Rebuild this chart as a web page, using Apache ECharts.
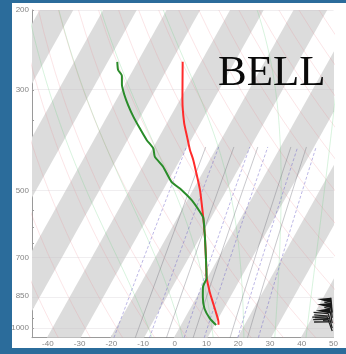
<!DOCTYPE html>
<html>
<head>
<meta charset="utf-8">
<script src="https://cdn.jsdelivr.net/npm/echarts@6/dist/echarts.min.js"></script>
<style>
  html, body { margin: 0; padding: 0; background: #2b6c9b; }
  #chart { width: 346px; height: 354px; }
</style>
</head>
<body>
<div id="chart"></div>
<script>
// ---- Sounding (pressure in hPa, temperatures in °C) ----
const tempPressure = [260, 315, 354, 380, 406, 427, 465, 497, 532, 573, 630, 691, 745, 776, 804, 834, 877, 922, 970, 984];
const temperature  = [-46.1, -39.5, -34.9, -31.5, -28.3, -25.5, -21.3, -18.1, -15.2, -12.1, -8.3, -4.8, -2.0, -0.5, 1.2, 3.0, 5.7, 8.4, 11.0, 11.5];

const dewPressure = [260, 271, 279, 292, 307, 324, 343, 364, 386, 403, 420, 442, 477, 497, 523, 555, 573, 630, 691, 745, 776, 811, 853, 906, 952, 985];
const dewpoint    = [-66.7, -65.0, -62.8, -61.2, -58.7, -55.6, -52.0, -47.9, -43.7, -40.1, -38.2, -33.8, -28.5, -23.9, -19.0, -14.3, -12.1, -8.3, -4.8, -2.0, -0.5, -0.1, 1.6, 4.2, 7.6, 10.8];

// ---- Wind barbs near the surface ----
const windPressure  = [925, 950, 975, 1000, 1015];
const windSpeed     = [55, 55, 50, 35, 30];          // knots
const windDirection = [355, 355, 350, 345, 340];     // degrees

// ---- Axes ----
const pressureLabels = [200, 300, 500, 700, 850, 1000];
const pressureTicks  = [200, 250, 300, 350, 400, 450, 500, 550, 600, 650, 700, 750, 800, 850, 900, 950, 1000];
const tempTicks      = [-40, -30, -20, -10, 0, 10, 20, 30, 40, 50];
const P_TOP = 200, P_BOTTOM = 1050;
const T_MIN = -45, T_MAX = 50;

// ---- Background reference lines ----
const shadedBands     = [-120, -100, -80, -60, -40, -20, 0, 20, 40]; // isotherm at the start of each shaded band
const bandStart       = -0.3;
const bandWidth       = 10.6;
const dryAdiabats     = [-40, -30, -20, -10, 0, 10, 20, 30, 40, 50, 60, 70, 80, 90, 100, 110, 120, 130, 140, 150]; // θ (°C)
const moistAdiabats   = [-10, 0, 10, 20, 30, 40];   // T at 1000 hPa (°C)
const mixingDashed    = [0.8, 2, 4.5, 7, 14, 21];    // g/kg
const mixingSolid     = [1.4, 3, 5.5, 12, 17];       // g/kg
const MIXING_TOP = 400;

// skew of isotherms: °C shift per unit of ln(p)
const SKEW = 34.8;
const ln = Math.log;
function sk(t, p) { return [t + SKEW * ln(P_BOTTOM / p), ln(p)]; }

function satVap(tc) { return 6.112 * Math.exp(17.67 * tc / (tc + 243.5)); }
function dewFromMix(w, p) {
  const e = p * w / (622 + w);
  const a = ln(e / 6.112);
  return 243.5 * a / (17.67 - a);
}
function moistLapse(p, tk) {
  const Rd = 287.04, Cp = 1005.7, Lv = 2.501e6, eps = 0.622;
  const es = satVap(tk - 273.15);
  const rs = eps * es / (p - es);
  return (Rd * tk + Lv * rs) / (p * (Cp + Lv * Lv * rs * eps / (Rd * tk * tk)));
}
function moistCurve(t0) {
  const up = [];
  let tk = t0 + 273.15, p = 1000;
  up.push(sk(t0, 1000));
  while (p > P_TOP) {
    const dp = -5;
    const k1 = moistLapse(p, tk);
    const k2 = moistLapse(p + dp, tk + k1 * dp);
    tk += 0.5 * (k1 + k2) * dp; p += dp;
    up.push(sk(tk - 273.15, p));
  }
  tk = t0 + 273.15; p = 1000;
  const down = [];
  while (p < P_BOTTOM) {
    const dp = 5;
    const k1 = moistLapse(p, tk);
    const k2 = moistLapse(p + dp, tk + k1 * dp);
    tk += 0.5 * (k1 + k2) * dp; p += dp;
    down.unshift(sk(tk - 273.15, p));
  }
  return down.concat(up);
}
function dryCurve(theta) {
  const pts = [];
  for (let p = P_BOTTOM; p >= P_TOP; p -= 25) {
    pts.push(sk((theta + 273.15) * Math.pow(p / 1000, 0.2857) - 273.15, p));
  }
  return pts;
}
function mixCurve(w) {
  const pts = [];
  for (let p = P_BOTTOM; p >= MIXING_TOP; p -= 50) pts.push(sk(dewFromMix(w, p), p));
  return pts;
}

const bgLine = (data, color, width, type) => ({
  type: 'line', data, showSymbol: false, silent: true, z: 2,
  lineStyle: { color, width, type: type || 'solid' }, animation: false
});

const series = [];

// shaded isotherm bands
series.push({
  type: 'custom',
  clip: true,
  silent: true,
  z: 1,
  data: shadedBands,
  renderItem: function (params, api) {
    const t0 = api.value(0) + bandStart;
    const pts = [
      api.coord(sk(t0, P_BOTTOM)),
      api.coord(sk(t0 + bandWidth, P_BOTTOM)),
      api.coord(sk(t0 + bandWidth, P_TOP)),
      api.coord(sk(t0, P_TOP))
    ];
    return { type: 'polygon', shape: { points: pts }, style: { fill: '#dcdcdc' } };
  },
  markLine: {
    silent: true, symbol: 'none', label: { show: false },
    lineStyle: { color: 'rgba(200,190,200,0.45)', width: 0.6, type: 'solid' },
    data: pressureLabels.map(p => ({ yAxis: ln(p) }))
  },
  animation: false
});

dryAdiabats.forEach(th => series.push(bgLine(dryCurve(th), 'rgba(235,130,140,0.35)', 0.6)));
moistAdiabats.forEach(t => series.push(bgLine(moistCurve(t), 'rgba(110,210,130,0.45)', 0.6)));
mixingSolid.forEach(w => series.push(bgLine(mixCurve(w), 'rgba(110,110,120,0.55)', 0.7)));
mixingDashed.forEach(w => series.push(bgLine(mixCurve(w), 'rgba(110,100,200,0.65)', 0.7, [3, 2])));

// temperature and dewpoint profiles
series.push({
  type: 'line', name: 'Temperature', showSymbol: false, silent: true, z: 5, smooth: 0.2,
  data: temperature.map((t, i) => sk(t, tempPressure[i])),
  lineStyle: { color: '#ff2b2b', width: 2 }, animation: false
});
series.push({
  type: 'line', name: 'Dewpoint', showSymbol: false, silent: true, z: 6, smooth: 0.2,
  data: dewpoint.map((t, i) => sk(t, dewPressure[i])),
  lineStyle: { color: '#2a8c2a', width: 2 }, animation: false
});

// wind barbs, anchored along the right edge
const BARB_T = 49.6;
series.push({
  type: 'custom',
  silent: true,
  z: 7,
  clip: false,
  data: windPressure.map((p, i) => [BARB_T, ln(p), windSpeed[i], windDirection[i]]),
  renderItem: function (params, api) {
    const base = api.coord([api.value(0), api.value(1)]);
    const spd = api.value(2), dir = api.value(3) * Math.PI / 180;
    const L = 15, F = 14, GAP = 2.6;
    const ux = Math.sin(dir), uy = -Math.cos(dir);   // toward the staff tip
    const nx = uy, ny = -ux;                          // feather side
    const tip = [base[0] + ux * L, base[1] + uy * L];
    const children = [{
      type: 'line', shape: { x1: base[0], y1: base[1], x2: tip[0], y2: tip[1] },
      style: { stroke: '#1a1a1a', lineWidth: 1.2 }
    }];
    let rem = spd, pos = 0;
    while (rem >= 50) {
      const a = [tip[0] - ux * pos, tip[1] - uy * pos];
      const b = [a[0] + nx * F, a[1] + ny * F];
      const c = [tip[0] - ux * (pos + GAP * 2), tip[1] - uy * (pos + GAP * 2)];
      children.push({ type: 'polygon', shape: { points: [a, b, c] }, style: { fill: '#151515' } });
      rem -= 50; pos += GAP * 2 + 1;
    }
    while (rem >= 5) {
      const full = rem >= 10;
      const f = full ? F : F / 2;
      const a = [tip[0] - ux * pos, tip[1] - uy * pos];
      children.push({
        type: 'line',
        shape: { x1: a[0], y1: a[1], x2: a[0] + nx * f + ux * f * 0.35, y2: a[1] + ny * f + uy * f * 0.35 },
        style: { stroke: '#222', lineWidth: 1.3 }
      });
      rem -= full ? 10 : 5; pos += GAP;
    }
    return { type: 'group', children };
  },
  animation: false
});

const chart = echarts.init(document.getElementById('chart'), null, { renderer: 'canvas' });
chart.setOption({
  animation: false,
  backgroundColor: '#2b6c9b',
  graphic: [
    { type: 'rect', z: -10, silent: true, shape: { x: 12, y: 3, width: 334, height: 345 }, style: { fill: '#ffffff' } },
    {
      type: 'text', z: 100, silent: true, x: 218, y: 95,
      style: { text: 'BELL', x: 0, y: 0, fill: '#0a0a0a', font: '43px "Liberation Serif"', textAlign: 'left', textVerticalAlign: 'bottom', align: 'left', verticalAlign: 'bottom' }
    }
  ],
  grid: { left: 32, right: 12.5, top: 10, bottom: 16.3, containLabel: false },
  xAxis: {
    type: 'value', min: T_MIN, max: T_MAX,
    axisLine: { show: true, onZero: false, lineStyle: { color: '#9a9a9a', width: 1 } },
    axisTick: { show: true, inside: true, length: 2, customValues: tempTicks, lineStyle: { color: '#9a9a9a' } },
    axisLabel: { customValues: tempTicks, color: '#858585', fontSize: 8, fontFamily: '"Liberation Sans", Arial', margin: 2 },
    splitLine: { show: false }
  },
  yAxis: {
    type: 'value', inverse: true, min: ln(P_TOP), max: ln(P_BOTTOM),
    axisLine: { show: true, onZero: false, lineStyle: { color: '#9a9a9a', width: 1 } },
    axisTick: { show: true, inside: true, length: 2, customValues: pressureTicks.map(ln), lineStyle: { color: '#9a9a9a' } },
    axisLabel: {
      customValues: pressureLabels.map(ln), color: '#858585', fontSize: 8, fontFamily: '"Liberation Sans", Arial', margin: 3,
      formatter: v => String(Math.round(Math.exp(v)))
    },
    splitLine: { show: false }
  },
  series
});
</script>
</body>
</html>
